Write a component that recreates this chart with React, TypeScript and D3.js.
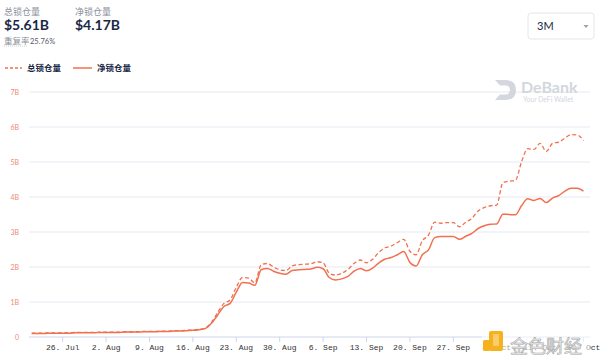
import React from "react";
import * as d3 from "d3";

// daily points, first day = 21 Jul 2021
const startDay = new Date(2021, 6, 21);

const totalLocked = [
  0.11, 0.11, 0.11, 0.12, 0.12, 0.12, 0.12, 0.13, 0.13, 0.13, 0.13, 0.14, 0.14, 0.14, 0.14,
  0.15, 0.15, 0.15, 0.16, 0.16, 0.16, 0.17, 0.17, 0.18, 0.18, 0.19, 0.2, 0.22, 0.26, 0.42,
  0.7, 0.96, 1.06, 1.42, 1.7, 1.68, 1.55, 2.06, 2.1, 2.0, 1.92, 1.9, 2.03, 2.07, 2.08,
  2.09, 2.15, 2.12, 1.82, 1.77, 1.82, 1.93, 2.1, 2.2, 2.12, 2.22, 2.42, 2.55, 2.6, 2.7,
  2.79, 2.45, 2.35, 2.75, 2.91, 3.28, 3.25, 3.27, 3.27, 3.15, 3.28, 3.39, 3.6, 3.7, 3.75,
  3.77, 4.41, 4.45, 4.47, 5.0, 5.38, 5.36, 5.53, 5.3, 5.53, 5.57, 5.68, 5.78, 5.77, 5.61,
];

const netLocked = [
  0.1, 0.1, 0.1, 0.11, 0.11, 0.11, 0.11, 0.12, 0.12, 0.12, 0.12, 0.13, 0.13, 0.13, 0.13,
  0.14, 0.14, 0.14, 0.15, 0.15, 0.15, 0.16, 0.16, 0.17, 0.17, 0.18, 0.19, 0.21, 0.24, 0.39,
  0.63, 0.87, 0.96, 1.28, 1.56, 1.54, 1.48, 1.92, 1.96, 1.88, 1.82, 1.79, 1.9, 1.92, 1.93,
  1.94, 1.99, 1.95, 1.7, 1.63, 1.66, 1.73, 1.88, 1.96, 1.89, 1.97, 2.12, 2.23, 2.27, 2.35,
  2.44, 2.13, 2.03, 2.35, 2.49, 2.84, 2.87, 2.87, 2.87, 2.79, 2.88, 2.96, 3.1, 3.18, 3.22,
  3.23, 3.51, 3.5, 3.49, 3.75, 3.95, 3.9, 3.96, 3.84, 3.97, 4.04, 4.17, 4.25, 4.25, 4.17,
];

const yTicks = [0, 1, 2, 3, 4, 5, 6, 7];
const yTickLabels = ["0", "1B", "2B", "3B", "4B", "5B", "6B", "7B"];

const seriesNames = ["总锁仓量", "净锁仓量"];
const summaryValues = ["$5.61B", "$4.17B"];
const dupLabel = "重复率";
const dupRate = "25.76%";
const rangeOption = "3M";

const LINE = "#f0704f";
const CJK = "Lato, 'Noto Sans CJK SC', sans-serif";

export default function App() {
  const width = 600;
  const height = 363;
  const left = 29;
  const right = 590;

  const days = totalLocked.map((_, i) => d3.timeDay.offset(startDay, i));
  const x = d3
    .scaleTime()
    .domain([days[0], days[days.length - 1]])
    .range([31.7, 583.5]);
  const y = d3.scaleLinear().domain([0, 7]).range([337, 92]);

  const xTicks = d3.timeMonday.range(new Date(2021, 6, 22), new Date(2021, 9, 19));
  const fmt = d3.timeFormat("%-d. %b");

  const line = d3
    .line<number>()
    .x((_, i) => x(days[i]))
    .y((v) => y(v))
    .curve(d3.curveMonotoneX);

  return (
    <svg width={width} height={height} style={{ position: "absolute", left: 0, top: 0, background: "#fff" }}>
      {/* header */}
      <g fontFamily={CJK}>
        <text x={4} y={15} fontSize={9} fill="#8a8f99">{seriesNames[0]}</text>
        <text x={4} y={29.5} fontSize={14} fontWeight={700} fill="#192945">{summaryValues[0]}</text>
        <text x={75} y={15} fontSize={9} fill="#8a8f99">{seriesNames[1]}</text>
        <text x={75} y={29.5} fontSize={14} fontWeight={700} fill="#192945">{summaryValues[1]}</text>
        <text x={4} y={44} fontSize={8.5} fill="#8a8f99">{dupLabel}</text>
        <line x1={4} x2={27} y1={46} y2={46} stroke="#a8adb6" strokeWidth={0.6} strokeDasharray="1,1" />
        <text x={30} y={44} fontSize={7.5} fill="#555b66">{dupRate}</text>
      </g>

      {/* range dropdown */}
      <rect x={528} y={13} width={66} height={26} rx={3} fill="#fff" stroke="#e3e6ec" />
      <text x={537} y={30} fontSize={11} fontFamily="Lato, sans-serif" fill="#192945">{rangeOption}</text>
      <path d="M583.5,25 L588.5,25 L586,28 Z" fill="#9ba1ab" />

      {/* legend */}
      <g fontFamily={CJK} fontSize={8.5} fontWeight={700} fill="#192945">
        <line x1={5} x2={22} y1={68} y2={68} stroke={LINE} strokeWidth={1.5} strokeDasharray="3,2" />
        <text x={27} y={71}>{seriesNames[0]}</text>
        <line x1={73} x2={92} y1={68} y2={68} stroke={LINE} strokeWidth={1.5} />
        <text x={97} y={71}>{seriesNames[1]}</text>
      </g>

      {/* grid */}
      {yTicks.map((t, i) => (
        <g key={t}>
          {t > 0 && <line x1={left} x2={right} y1={y(t)} y2={y(t)} stroke="#e6e9f2" strokeWidth={1} />}
          <text x={19} y={y(t) + 2.5} fontSize={7} textAnchor="end" fill="#ee8a78" fontFamily="Lato, sans-serif">
            {yTickLabels[i]}
          </text>
        </g>
      ))}

      {/* DeBank watermark */}
      <g opacity={0.9}>
        <path d="M495,80 L505,80 Q516,80 516,90 Q516,100 505,100 L495,100 L500,94.5 L505,94.5 Q510,94.5 510,90 Q510,85.5 505,85.5 L500,85.5 Z" fill="#cfd3da" />
        <text x={521} y={93} fontSize={16} fontWeight={700} fill="#cfd3da" fontFamily="Lato, sans-serif">DeBank</text>
        <text x={523} y={101.5} fontSize={6.8} fill="#cfd3da" fontFamily="Lato, sans-serif">Your DeFi Wallet</text>
      </g>

      {/* x axis */}
      <line x1={left} x2={right} y1={337} y2={337} stroke="#ccd6eb" />
      {xTicks.map((d) => (
        <g key={+d}>
          <line x1={x(d)} x2={x(d)} y1={337} y2={342} stroke="#ccd6eb" />
          <text x={x(d)} y={350} fontSize={8} textAnchor="middle" fill="#333" fontFamily="'Liberation Mono', monospace">
            {fmt(d)}
          </text>
        </g>
      ))}

      {/* series */}
      <path d={line(totalLocked) ?? ""} fill="none" stroke={LINE} strokeWidth={1.3} strokeDasharray="4,2.5" />
      <path d={line(netLocked) ?? ""} fill="none" stroke={LINE} strokeWidth={1.5} />

      {/* 金色财经 watermark */}
      <g>
        <rect x={482} y={331} width={108} height={25} fill="#fff" opacity={0.55} />
        <rect x={489} y={331} width={14} height={20} rx={2} fill="#f5b21c" />
        <rect x={483} y={340} width={7} height={11} rx={1.5} fill="#f5b21c" />
        <rect x={493} y={334} width={6} height={12} fill="#fff" opacity={0.35} />
        <text x={510} y={353} fontSize={18} fontFamily="'Noto Sans CJK SC', sans-serif" fill="#eeeeee" stroke="#a8a8a8" strokeWidth={0.6}>
          金色财经
        </text>
      </g>
    </svg>
  );
}
